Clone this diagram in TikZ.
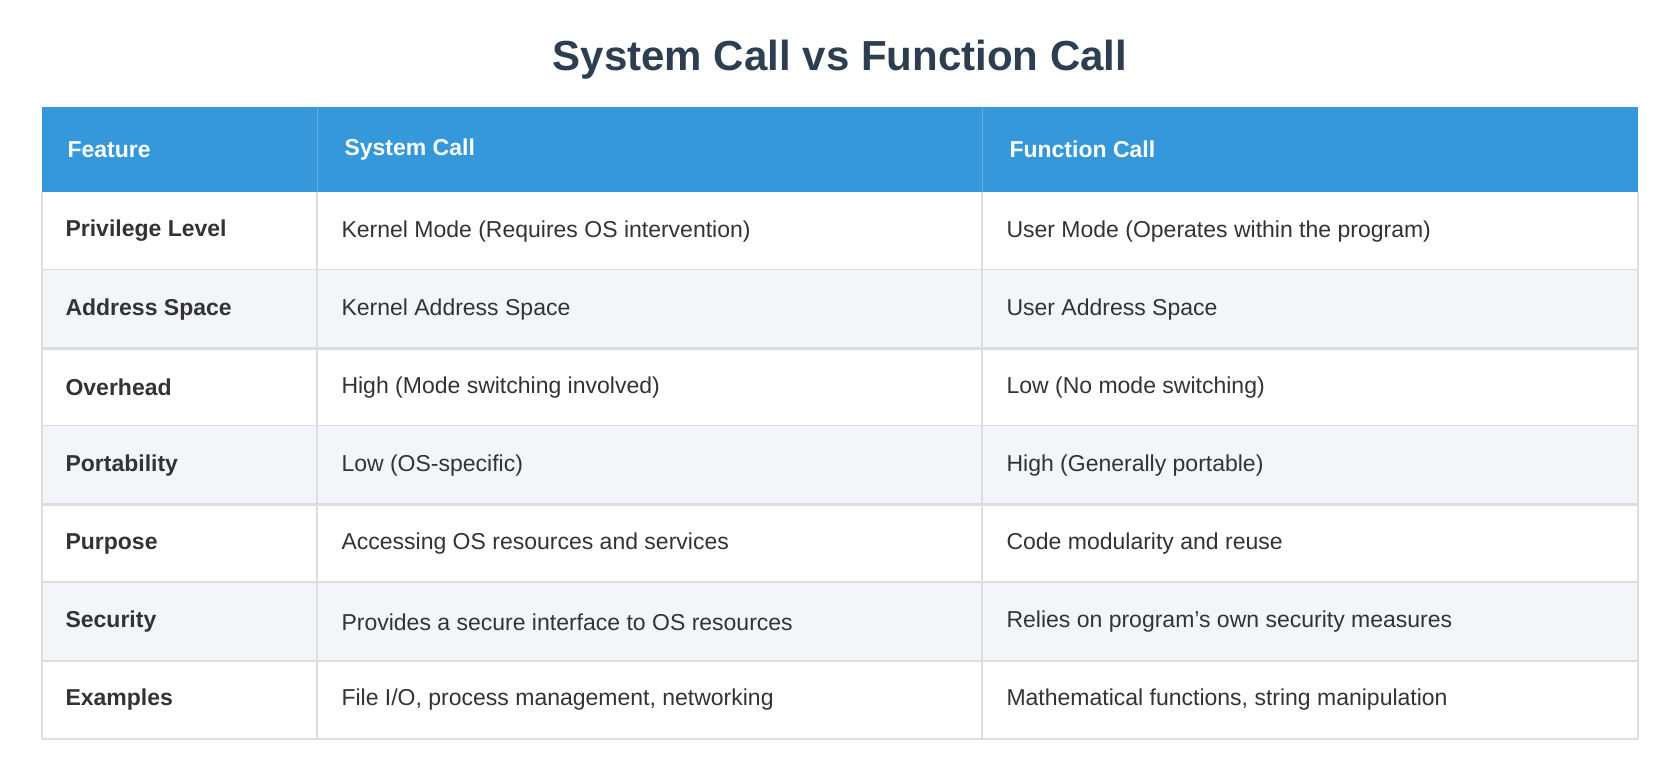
\documentclass[tikz,border=0pt]{standalone}
\usepackage{fontspec}
\setmainfont{Liberation Sans}
\begin{document}
\begin{tikzpicture}[x=1pt,y=-1pt,
 txt/.style={anchor=west,font=\fontsize{23}{27}\selectfont,text=black!80},
 ftxt/.style={txt,font=\fontsize{23}{27}\selectfont\bfseries},
 htxt/.style={anchor=west,text=white,font=\fontsize{23}{27}\selectfont\bfseries}]
\definecolor{hdr}{HTML}{3498DB}
\definecolor{alt}{HTML}{F2F5F9}
\definecolor{grid}{HTML}{DDDDDD}
\definecolor{ttl}{HTML}{2C3E50}
\useasboundingbox (0,0) rectangle (1680,782);
\fill[white] (0,0) rectangle (1680,782);
\node[font=\fontsize{42}{48}\selectfont\bfseries,text=ttl] (title) at (840,60) {System Call vs Function Call};
\fill[hdr] (42,107) rectangle (1638,192);
\draw[hdr!80!white,line width=1] (317,107) -- (317,192) (982,107) -- (982,192);
\node[htxt] (h1) at (64,149.5) {Feature};
\node[htxt] (h2) at (341,149.5) {System Call};
\node[htxt] (h3) at (1006,149.5) {Function Call};
\def\rows{{192,270,348,426,505,583,661,739}}
\foreach \i/\f/\s/\c in {0/Privilege Level/Kernel Mode (Requires OS intervention)/User Mode (Operates within the program),
 1/Address Space/Kernel Address Space/User Address Space,
 2/Overhead/High (Mode switching involved)/Low (No mode switching),
 3/Portability/Low (OS-specific)/High (Generally portable),
 4/Purpose/Accessing OS resources and services/Code modularity and reuse,
 5/Security/Provides a secure interface to OS resources/Relies on program's own security measures,
 6/Examples/{File I/O, process management, networking}/{Mathematical functions, string manipulation}}{
 \pgfmathsetmacro\ya{192+\i*78.14}
 \pgfmathsetmacro\yb{\ya+78.14}
 \pgfmathsetmacro\ym{\ya+39.07}
 \ifodd\i \fill[alt] (42,\ya) rectangle (1638,\yb); \fi
 \draw[grid,line width=2.5] (42,\yb) -- (1638,\yb);
 \draw[grid,line width=2.5] (42,\ya) -- (42,\yb) (317,\ya) -- (317,\yb) (982,\ya) -- (982,\yb) (1638,\ya) -- (1638,\yb);
 \node[ftxt] (f\i) at (62,\ym) {\f};
 \node[txt] (s\i) at (338,\ym) {\s};
 \node[txt] (c\i) at (1003,\ym) {\c};
}
\end{tikzpicture}
\end{document}
